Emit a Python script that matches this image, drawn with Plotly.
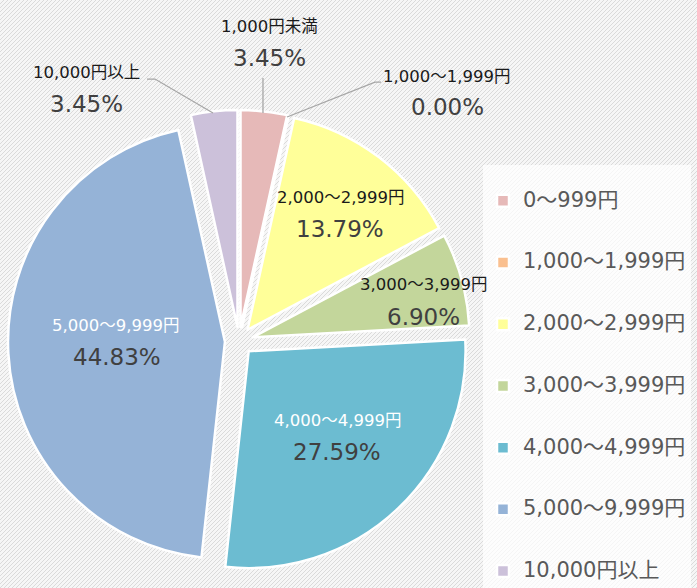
import base64
import plotly.graph_objects as go

# ---- data ----
legend_labels = ["0〜999円", "1,000〜1,999円", "2,000〜2,999円", "3,000〜3,999円",
                 "4,000〜4,999円", "5,000〜9,999円", "10,000円以上"]
slice_labels = ["1,000円未満", "1,000〜1,999円", "2,000〜2,999円", "3,000〜3,999円",
                "4,000〜4,999円", "5,000〜9,999円", "10,000円以上"]
counts = [1, 0, 4, 2, 8, 13, 1]
colors = ["#E6B9B8", "#FAC090", "#FFFF99", "#C3D69B", "#6CBCD1", "#95B3D7", "#CCC1DA"]

W, H = 697, 588
FONT = "DejaVu Sans, Noto Sans CJK JP, sans-serif"

total = sum(counts)
percents = ["%.2f%%" % (c / total * 100) for c in counts]

# legend entries: padded with thin blank lines to get the wide row spacing
legend_entries = ["<span style='font-size:2px'> </span><br>"
                  "<span style='font-size:21px'>%s</span><br>"
                  "<span style='font-size:2px'> </span>" % t for t in legend_labels]

fig = go.Figure()
fig.add_trace(go.Pie(
    labels=legend_entries,
    values=counts,
    sort=False,
    direction="clockwise",
    rotation=0,
    pull=[0.065] * len(counts),
    marker=dict(colors=colors, line=dict(color="white", width=2.5)),
    textinfo="none",
    hoverinfo="skip",
    domain=dict(x=[8 / W, 470 / W], y=[1 - 572 / H, 1 - 110 / H]),
))

# label placement (pixel centres) and styles
label_pos = [(269, 27), (446, 77), (340, 197), (423, 284), (337, 420), (116, 325), (86, 73)]
pct_pos = [(269, 58), (447, 107), (340, 229), (423, 317), (337, 452), (117, 357), (86, 104)]
label_col = ["#1A1A1A", "#1A1A1A", "#1A1A1A", "#1A1A1A", "#FFFFFF", "#FFFFFF", "#1A1A1A"]

annotations = []
for i in range(len(slice_labels)):
    lx, ly = label_pos[i]
    px, py = pct_pos[i]
    annotations.append(dict(x=lx / W, y=1 - ly / H, xref="paper", yref="paper",
                            text=slice_labels[i], showarrow=False,
                            xanchor="center", yanchor="middle",
                            font=dict(family=FONT, size=16.5, color=label_col[i])))
    annotations.append(dict(x=px / W, y=1 - py / H, xref="paper", yref="paper",
                            text=percents[i], showarrow=False,
                            xanchor="center", yanchor="middle",
                            font=dict(family=FONT, size=23, color="#404040")))

# leader lines (pixel paths)
leaders = [
    [(263, 78), (263, 113)],
    [(287, 117), (375, 82), (381, 82)],
    [(147, 79), (155, 79), (213, 113)],
]
shapes = []
for pts in leaders:
    path = "M " + " L ".join("%.4f,%.4f" % (x / W, 1 - y / H) for x, y in pts)
    shapes.append(dict(type="path", path=path, xref="paper", yref="paper",
                       line=dict(color="#A6A6A6", width=1.3)))

# diagonal striped background
svg = ('<svg xmlns="http://www.w3.org/2000/svg" width="%d" height="%d">'
       '<defs><pattern id="p" width="4" height="4" patternUnits="userSpaceOnUse">'
       '<rect width="4" height="4" fill="#F6F6F6"/>'
       '<path d="M-1,1 l2,-2 M0,4 l4,-4 M3,5 l2,-2" stroke="#DADADA" stroke-width="1"/>'
       '</pattern></defs><rect width="100%%" height="100%%" fill="url(#p)"/></svg>') % (W, H)
src = "data:image/svg+xml;base64," + base64.b64encode(svg.encode()).decode()

fig.update_layout(
    width=W, height=H,
    margin=dict(l=0, r=0, t=0, b=0, pad=0, autoexpand=False),
    paper_bgcolor="#EEEEEE",
    plot_bgcolor="rgba(0,0,0,0)",
    images=[dict(source=src, xref="paper", yref="paper", x=0, y=1, sizex=1, sizey=1,
                 sizing="stretch", xanchor="left", yanchor="top", layer="below")],
    showlegend=True,
    legend=dict(x=483 / W, y=1 - 165 / H, xanchor="left", yanchor="top",
                bgcolor="rgba(255,255,255,0.72)", borderwidth=0,
                font=dict(family=FONT, size=15.05, color="#595959"),
                itemclick=False, itemdoubleclick=False),
    annotations=annotations,
    shapes=shapes,
)

fig.write_html("out.html",
               config=dict(displayModeBar=False),
               post_script="document.body.style.margin='0';document.body.style.overflow='hidden';")
